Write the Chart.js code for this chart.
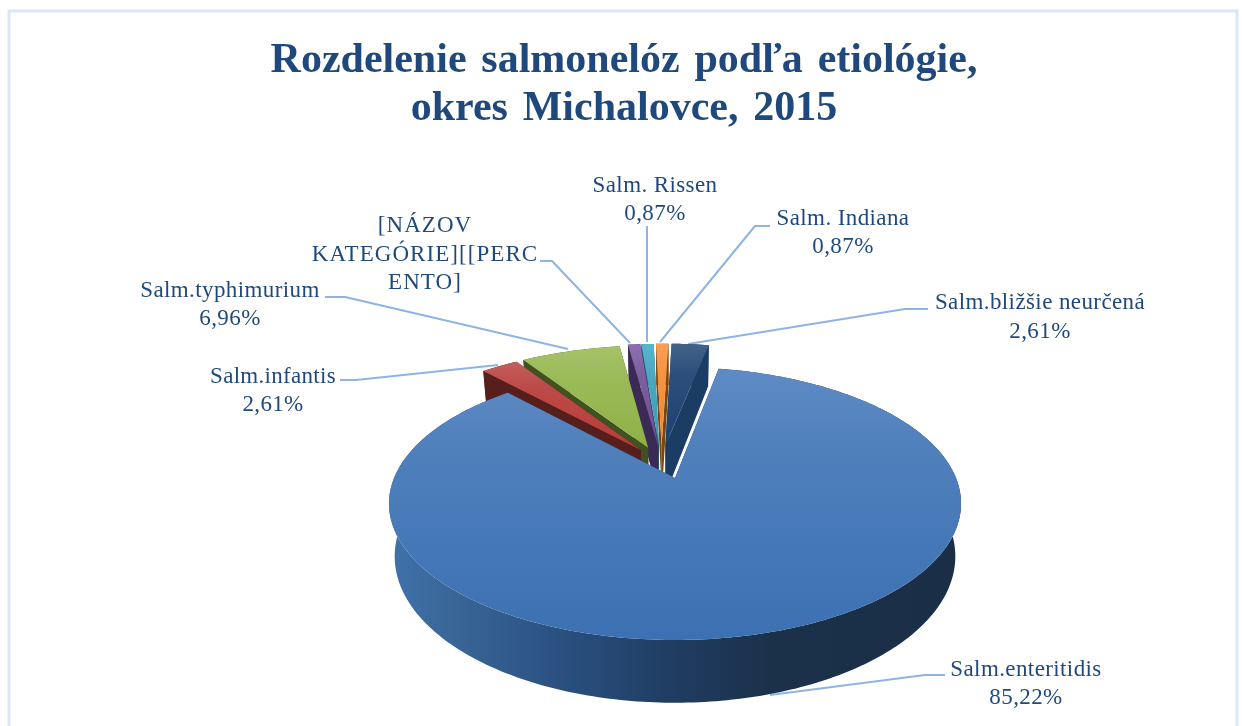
<!DOCTYPE html>
<html>
<head>
<meta charset="utf-8">
<style>html,body{margin:0;padding:0;background:#fff}canvas{display:block;filter:blur(.4px)}</style>
<script src="https://cdn.jsdelivr.net/npm/chart.js@4"></script>
</head>
<body>
<canvas id="c" width="1242" height="726"></canvas>
<script>
const categories = ['Salm.enteritidis','Salm.infantis','Salm.typhimurium','[NÁZOV KATEGÓRIE][[PERCENTO]','Salm. Rissen','Salm. Indiana','Salm.bližšie neurčená'];
const shares = [85.22, 2.61, 6.96, 0.87, 0.87, 0.87, 2.61];
const shareLabels = ['85,22%','2,61%','6,96%','','0,87%','0,87%','2,61%'];
const titleLines = ['Rozdelenie salmonelóz podľa etiológie,','okres Michalovce, 2015'];
const sliceColors = ['#4f81bd','#c0504d','#9bbb59','#8064a2','#4bacc6','#f79646','#2c4d75'];

// look of the 3D projection
const topShades = [['#5f8bc5','#4f80bc','#3b70b2'],['#c45f5c','#bc4a47','#b73c39'],['#a6c268','#9bbb59','#8fb046'],['#8c70ae','#7d5fa0','#6d4f92'],['#55b4ce','#4aa8c2','#3d9ab4'],['#f89f58','#f69440','#f08a30'],['#446389','#2c4f7c','#1c416f']];
const wallShades = ['#1b3049','#561f1c','#3f5220','#3b2a56','#1e5666','#7a4611','#1b3c63'];
const explode = [[0,0],[-.127,.222],[-.10,.24],[-.064,.258],[-.06,.258],[-.05,.26],[-.036,.26]];
const P = {x:675, y:478, A:281, B:131.7, k:.187, D:51, shrink:.98};
const textColor = '#1f497d', lineColor = '#8fb4e3';
const labelBoxes = [
  {i:0, x:1026, y:[670,698], font:23, sp:.4},
  {i:1, x:273, y:[377,405], font:23, sp:.3},
  {i:2, x:230, y:[291,319], font:23, sp:.4},
  {text:['[NÁZOV','KATEGÓRIE][[PERC','ENTO]'], x:425, y:[226,255,283], font:23, sp:1.05},
  {i:4, x:655, y:[186,214], font:23, sp:.4},
  {i:5, x:843, y:[219,247], font:23, sp:.4},
  {i:6, x:1040, y:[303,332], font:23, sp:.4}
];
const leaders = [
  [[945,675],[925,675],[770,695]],
  [[340,380],[356,380],[498,365]],
  [[325,297],[345,297],[568,349]],
  [[540,261],[552,261],[630,343]],
  [[647,226],[647,342]],
  [[770,226],[755,226],[660,342]],
  [[928,309],[905,309],[688,344]]
];

function proj(u,v,low){
  const w = 1 + P.k*v;
  let sx = P.x + P.A*u/w, sy = P.y - P.B*v/w;
  if(low){ sx = P.x + (sx-P.x)*P.shrink; sy += P.D/w; }
  return [sx,sy];
}
function poly(ctx,pts,fill){
  ctx.beginPath();
  pts.forEach((p,j)=> j?ctx.lineTo(p[0],p[1]):ctx.moveTo(p[0],p[1]));
  ctx.closePath();
  ctx.fillStyle=fill; ctx.fill();
}
function extent(pts){ const ys=pts.map(p=>p[1]); return [Math.min(...ys),Math.max(...ys)]; }

const pie3d = {
  id:'pie3d',
  beforeDraw(chart){ chart.ctx.wordSpacing='4.3px'; },
  beforeDatasetsDraw(chart){
    const ctx = chart.ctx;
    ctx.wordSpacing='0px';
    // frame
    ctx.strokeStyle='#dbe6f7'; ctx.lineWidth=3;
    ctx.beginPath(); ctx.moveTo(9,726); ctx.lineTo(9,11); ctx.lineTo(1237,11); ctx.lineTo(1237,726); ctx.stroke();
    const arcs = chart.getDatasetMeta(0).data;
    // leader lines sit behind the pie
    ctx.strokeStyle=lineColor; ctx.lineWidth=2; ctx.lineJoin='round';
    leaders.forEach(l=>{ctx.beginPath();l.forEach((p,j)=>j?ctx.lineTo(p[0],p[1]):ctx.moveTo(p[0],p[1]));ctx.stroke();});
    for(let i=arcs.length-1;i>=0;i--){
      const a0 = arcs[i].startAngle+Math.PI/2, a1 = arcs[i].endAngle+Math.PI/2;
      const [ou,ov] = explode[i];
      const n = Math.max(4,Math.round((a1-a0)*60));
      const top=[],low=[];
      for(let s=0;s<=n;s++){
        const a=a0+(a1-a0)*s/n, u=ou+Math.sin(a), v=ov+Math.cos(a);
        top.push(proj(u,v,false)); low.push(proj(u,v,true));
      }
      const apT=proj(ou,ov,false), apL=proj(ou,ov,true);
      let wall = wallShades[i];
      if(i===0){
        wall = ctx.createLinearGradient(390,0,962,0);
        wall.addColorStop(0,'#3f71aa'); wall.addColorStop(.12,'#386595'); wall.addColorStop(.3,'#2a5080');
        wall.addColorStop(.5,'#1f3c60'); wall.addColorStop(.68,'#1b3049'); wall.addColorStop(1,'#1a2e48');
      }
      poly(ctx,[apT,top[0],low[0],apL],wall);
      poly(ctx,[apT,top[n],low[n],apL],wall);
      poly(ctx,top.concat(low.slice().reverse()),wall);
      const ex=extent(top.concat([apT]));
      const g=ctx.createLinearGradient(0,ex[0],0,ex[1]);
      g.addColorStop(0,topShades[i][0]); g.addColorStop(.3,topShades[i][1]); g.addColorStop(1,topShades[i][2]);
      poly(ctx,[apT].concat(top),g);
    }
    // labels
    ctx.fillStyle=textColor; ctx.textAlign='center'; ctx.textBaseline='middle';
    labelBoxes.forEach(b=>{
      const lines = b.text || [categories[b.i],shareLabels[b.i]];
      ctx.font = b.font+'px "Liberation Serif"';
      ctx.letterSpacing = b.sp+'px';
      lines.forEach((t,j)=>ctx.fillText(t,b.x,b.y[j]));
    });
    ctx.letterSpacing='0px';
    return false;
  }
};

new Chart(document.getElementById('c'),{
  type:'pie',
  data:{labels:categories,datasets:[{data:shares,backgroundColor:sliceColors,borderWidth:0}]},
  options:{
    responsive:false, animation:false, rotation:10.6,
    layout:{padding:{left:6}},
    plugins:{
      legend:{display:false}, tooltip:{enabled:false},
      title:{display:true,text:titleLines,color:textColor,align:'center',
        font:{family:'"Liberation Serif"',size:42,weight:'bold',lineHeight:1.143},padding:{top:37,bottom:10}}
    }
  },
  plugins:[pie3d]
});
</script>
</body>
</html>
